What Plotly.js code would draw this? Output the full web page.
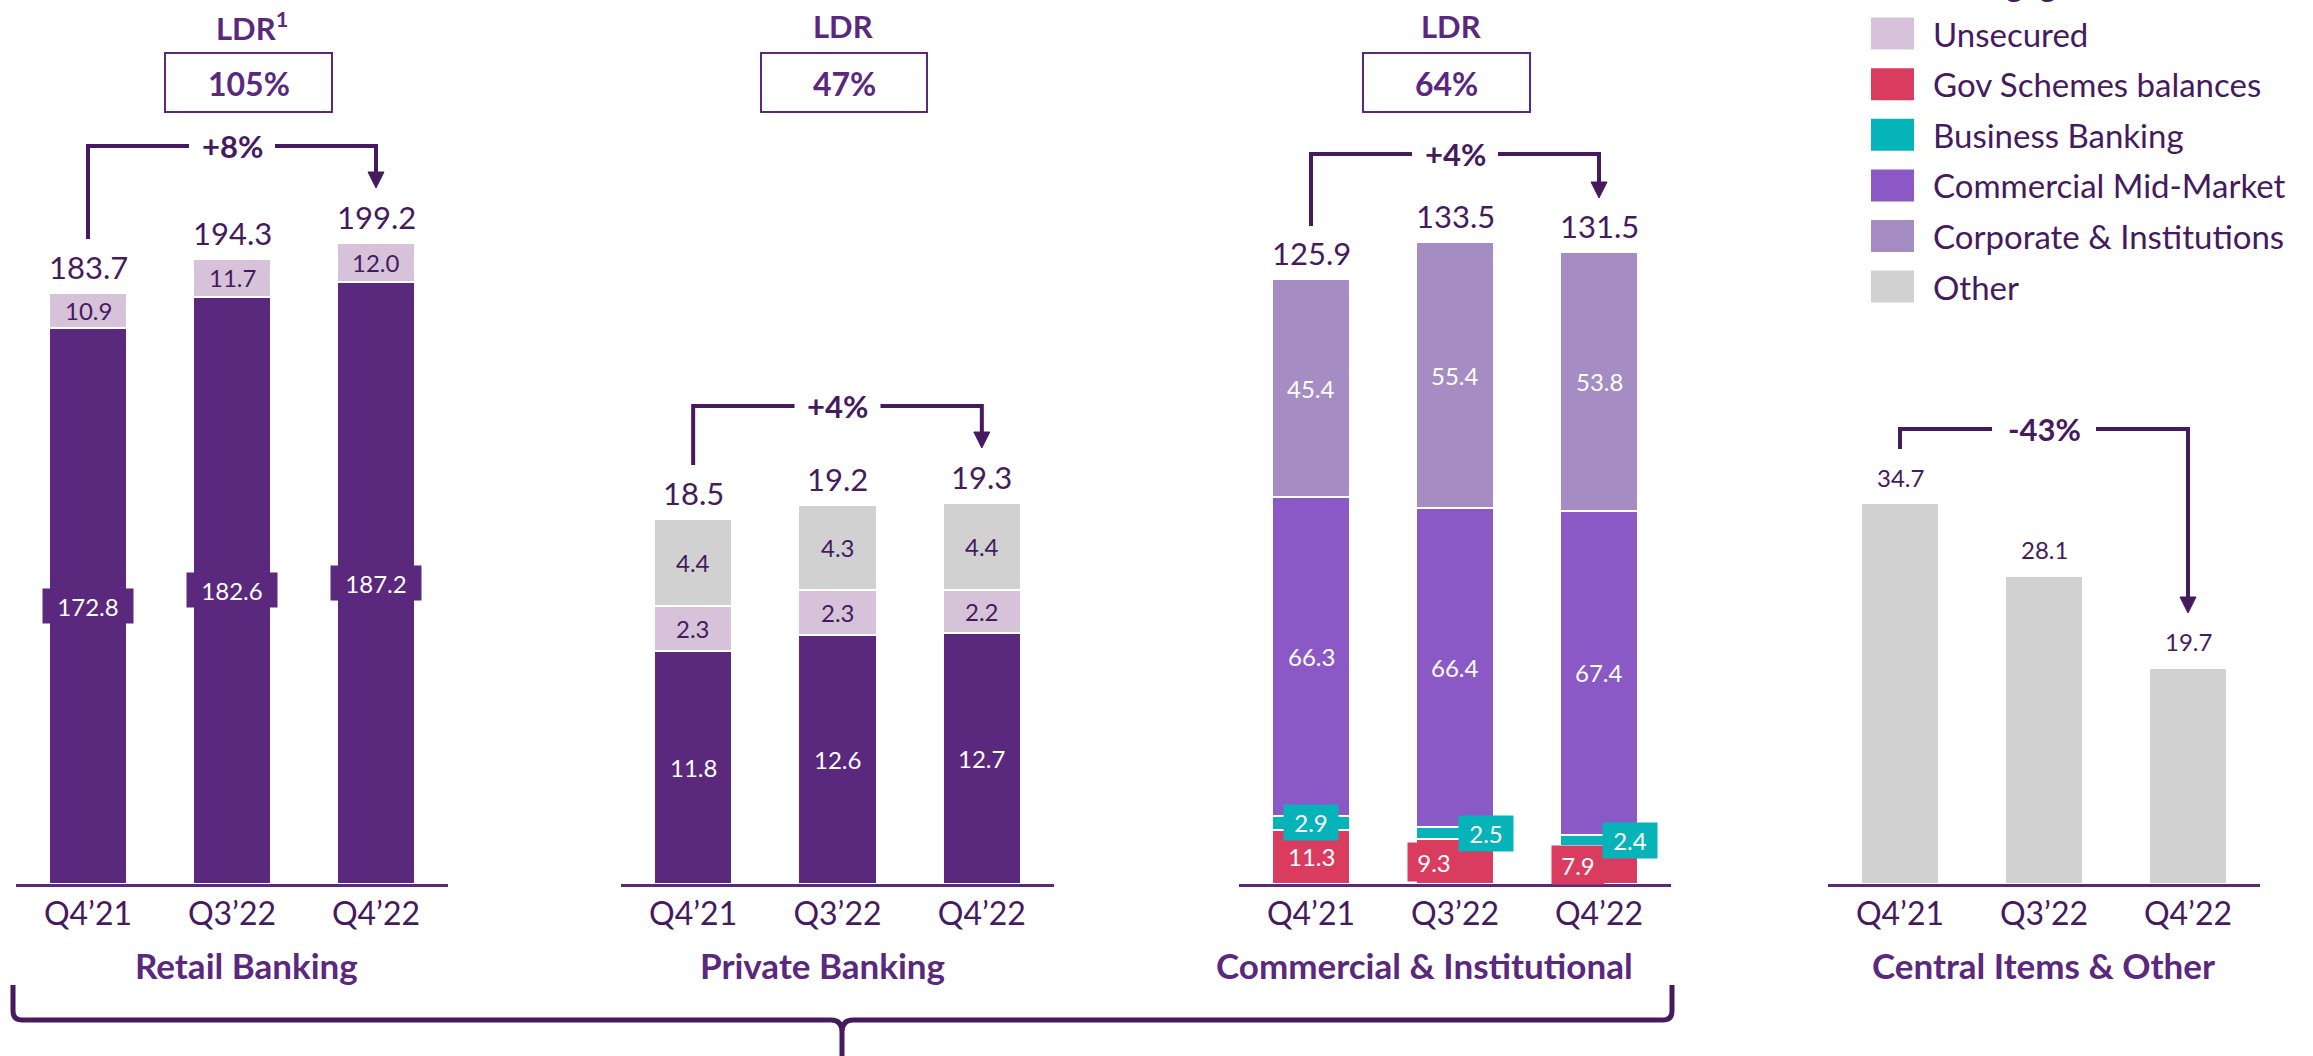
<!DOCTYPE html>
<html><head><meta charset="utf-8">
<script src="https://cdn.plot.ly/plotly-3.0.1.min.js"></script>
<style>html,body{margin:0;padding:0;background:#fff;overflow:hidden}#chart{width:2313px;height:1056px}</style>
</head><body><div id="chart"></div>
<script>
// ---------------- data ----------------
const quarters = ['Q4’21', 'Q3’22', 'Q4’22'];
const retailMortgages = [172.8, 182.6, 187.2];
const retailUnsecured = [10.9, 11.7, 12.0];
const retailTotals = [183.7, 194.3, 199.2];
const privateMortgages = [11.8, 12.6, 12.7];
const privateUnsecured = [2.3, 2.3, 2.2];
const privateOther = [4.4, 4.3, 4.4];
const privateTotals = [18.5, 19.2, 19.3];
const commGovSchemes = [11.3, 9.3, 7.9];
const commBusiness = [2.9, 2.5, 2.4];
const commMidMarket = [66.3, 66.4, 67.4];
const commCorporate = [45.4, 55.4, 53.8];
const commTotals = [125.9, 133.5, 131.5];
const centralOther = [34.7, 28.1, 19.7];
const segmentNames = ['Mortgages', 'Unsecured', 'Gov Schemes balances', 'Business Banking', 'Commercial Mid-Market', 'Corporate & Institutions', 'Other'];
const panelTitles = ['Retail Banking', 'Private Banking', 'Commercial & Institutional', 'Central Items & Other'];
const ldrLabels = ['LDR<sup>1</sup>', 'LDR', 'LDR'];
const ldrValues = ['105%', '47%', '64%'];
const changeLabels = ['+8%', '+4%', '+4%', '-43%'];

// ---------------- styles ----------------
const W = 2313, H = 1056, BASE = 884;
const FONT = 'Lato, "Noto Sans", sans-serif';
const DARK = '#461a5e', PURPLE = '#5a287d';
const colors = {
  'Mortgages': '#5a287d', 'Unsecured': '#d6c3da', 'Gov Schemes balances': '#d93c5f',
  'Business Banking': '#06b3b9', 'Commercial Mid-Market': '#8b59c6',
  'Corporate & Institutions': '#a58cc2', 'Other': '#d1d1d1'
};
const lightSeg = {'Unsecured': true, 'Other': true};

const panels = [
  {dom: [16, 448], scale: 3.217, totals: retailTotals, totalFont: 31,
   segs: [['Mortgages', retailMortgages], ['Unsecured', retailUnsecured]],
   hY: 146, leftEnd: 239, tip: 188, gap: 43},
  {dom: [621, 1054], scale: 19.74, totals: privateTotals, totalFont: 31,
   segs: [['Mortgages', privateMortgages], ['Unsecured', privateUnsecured], ['Other', privateOther]],
   hY: 406, leftEnd: 465, tip: 448, gap: 43},
  {dom: [1239, 1671], scale: 4.805, totals: commTotals, totalFont: 31,
   segs: [['Gov Schemes balances', commGovSchemes], ['Business Banking', commBusiness],
          ['Commercial Mid-Market', commMidMarket], ['Corporate & Institutions', commCorporate]],
   hY: 154, leftEnd: 226, tip: 198, gap: 43},
  {dom: [1828, 2260], scale: 10.97, totals: centralOther, totalFont: 24,
   segs: [['Other', centralOther]],
   hY: 429, leftEnd: 449, tip: 613, gap: 52}
];
const titleX = [246, 822, 1424, 2043];
const ldrX = [252, 843, 1451];
const boxX = [[165, 332], [761, 927], [1363, 1530]];

const px = x => x / W;
const py = y => 1 - y / H;

const traces = [];
const annotations = [];
const shapes = [];
const layout = {
  width: W, height: H, margin: {l: 0, r: 0, t: 0, b: 0},
  paper_bgcolor: '#fff', plot_bgcolor: 'rgba(0,0,0,0)',
  barmode: 'stack', bargap: 0.458, showlegend: false,
  font: {family: FONT, color: DARK}
};

function paperText(x, y, text, font, extra) {
  return Object.assign({x: px(x), y: py(y), xref: 'paper', yref: 'paper', showarrow: false,
    text: text, xanchor: 'center', yanchor: 'middle', font: font}, extra || {});
}

panels.forEach((p, k) => {
  const s = k === 0 ? '' : String(k + 1);
  layout['xaxis' + s] = {
    domain: [px(p.dom[0]), px(p.dom[1])], type: 'category', range: [-0.5, 2.5],
    showline: true, linecolor: PURPLE, linewidth: 2.5, ticks: '', showgrid: false, zeroline: false,
    tickfont: {size: 32, color: DARK, family: FONT}, anchor: 'y' + s, fixedrange: true
  };
  layout['yaxis' + s] = {
    domain: [(H - BASE) / H, 1], range: [0, BASE / p.scale], visible: false,
    anchor: 'x' + s, fixedrange: true
  };
  const cum = [0, 0, 0];
  p.segs.forEach(([name, vals]) => {
    traces.push({
      type: 'bar', x: quarters, y: vals, name: name, xaxis: 'x' + s, yaxis: 'y' + s,
      marker: {color: colors[name], line: {color: '#ffffff', width: 2}}, hoverinfo: 'skip'
    });
    if (k !== 3) {
      vals.forEach((v, i) => {
        const a = {
          x: i, y: cum[i] + v / 2, xref: 'x' + s, yref: 'y' + s, showarrow: false,
          text: v.toFixed(1), yanchor: 'middle', xanchor: 'center',
          font: {size: 24, family: FONT, color: lightSeg[name] ? DARK : '#ffffff'}
        };
        if (k === 0 && name === 'Mortgages') {
          Object.assign(a, {bgcolor: colors[name], width: 88, height: 32});
        }
        if (name === 'Business Banking') {
          Object.assign(a, {bgcolor: colors[name], width: 52, height: 33, xshift: i === 0 ? 0 : 31});
        }
        if (name === 'Gov Schemes balances' && i > 0) {
          Object.assign(a, {bgcolor: colors[name], width: 50, height: 36, xshift: -21});
        }
        annotations.push(a);
      });
    }
    vals.forEach((v, i) => { cum[i] += v; });
  });
  // totals
  p.totals.forEach((t, i) => {
    annotations.push({
      x: i, y: cum[i], xref: 'x' + s, yref: 'y' + s, showarrow: false, yshift: 26,
      text: t.toFixed(1), xanchor: 'center', yanchor: 'middle',
      font: {size: p.totalFont, family: FONT, color: DARK}
    });
  });
  // change bracket
  const step = (p.dom[1] - p.dom[0]) / 3;
  const c = [0, 1, 2].map(i => p.dom[0] + (i + 0.5) * step);
  const line = {color: DARK, width: 4};
  shapes.push({type: 'path', xref: 'paper', yref: 'paper', line: line,
    path: `M ${px(c[0])},${py(p.leftEnd)} L ${px(c[0])},${py(p.hY)} L ${px(c[1] - p.gap)},${py(p.hY)}`});
  shapes.push({type: 'path', xref: 'paper', yref: 'paper', line: line,
    path: `M ${px(c[1] + p.gap)},${py(p.hY)} L ${px(c[2])},${py(p.hY)} L ${px(c[2])},${py(p.tip - 14)}`});
  shapes.push({type: 'path', xref: 'paper', yref: 'paper', fillcolor: DARK, line: {color: DARK, width: 1},
    path: `M ${px(c[2] - 8)},${py(p.tip - 16)} L ${px(c[2] + 8)},${py(p.tip - 16)} L ${px(c[2])},${py(p.tip)} Z`});
  annotations.push(paperText(c[1], p.hY, changeLabels[k], {size: 31, family: FONT, color: DARK, weight: 700}));
  // panel title
  annotations.push(paperText(titleX[k], 965, panelTitles[k], {size: 35, family: FONT, color: PURPLE, weight: 700}));
  // LDR
  if (k < 3) {
    annotations.push(paperText(ldrX[k], 26, ldrLabels[k], {size: 31, family: FONT, color: PURPLE, weight: 700}));
    shapes.push({type: 'rect', xref: 'paper', yref: 'paper', x0: px(boxX[k][0]), x1: px(boxX[k][1]),
      y0: py(53), y1: py(112), line: {color: PURPLE, width: 2}});
    annotations.push(paperText((boxX[k][0] + boxX[k][1]) / 2, 83, ldrValues[k],
      {size: 32, family: FONT, color: PURPLE, weight: 700}));
  }
});

// legend (manual); first entry sits above the visible area, as in the source
const legendY0 = -17, legendStep = 50.6;
segmentNames.forEach((name, i) => {
  const yc = legendY0 + i * legendStep;
  shapes.push({type: 'rect', xref: 'paper', yref: 'paper', x0: px(1871), x1: px(1914),
    y0: py(yc - 16), y1: py(yc + 16), fillcolor: colors[name], line: {width: 0}});
  annotations.push(paperText(1931, yc, name, {size: 33, family: FONT, color: DARK}, {xanchor: 'left'}));
});

// bottom brace
const bp = [
  `M ${px(13)},${py(985)} L ${px(13)},${py(1011)} Q ${px(13)},${py(1020)} ${px(22)},${py(1020)}`,
  `L ${px(831)},${py(1020)} Q ${px(842)},${py(1020)} ${px(842)},${py(1032)} L ${px(842)},${py(1060)}`,
  `M ${px(842)},${py(1032)} Q ${px(842)},${py(1020)} ${px(853)},${py(1020)}`,
  `L ${px(1663)},${py(1020)} Q ${px(1672)},${py(1020)} ${px(1672)},${py(1011)} L ${px(1672)},${py(985)}`
].join(' ');
shapes.push({type: 'path', xref: 'paper', yref: 'paper', path: bp, line: {color: DARK, width: 5}});

layout.annotations = annotations;
layout.shapes = shapes;
Plotly.newPlot('chart', traces, layout, {displayModeBar: false, staticPlot: true});
</script></body></html>
